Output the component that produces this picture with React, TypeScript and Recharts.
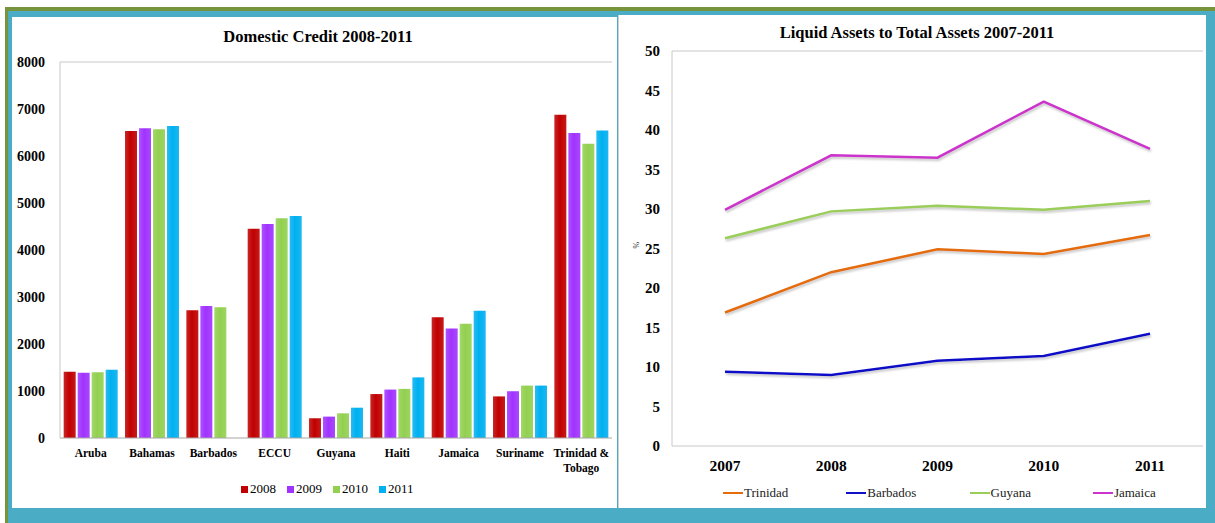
import React from 'react';
import { BarChart, Bar, XAxis, YAxis, LineChart, Line, Legend, ReferenceLine, Text } from 'recharts';

// ---------- Domestic Credit 2008-2011 ----------
const countries = ['Aruba', 'Bahamas', 'Barbados', 'ECCU', 'Guyana', 'Haiti', 'Jamaica', 'Suriname', 'Trinidad & Tobago'];
const credit2008 = [1410, 6530, 2720, 4450, 420, 935, 2570, 885, 6880];
const credit2009 = [1390, 6590, 2810, 4555, 455, 1030, 2330, 995, 6490];
const credit2010 = [1400, 6570, 2780, 4675, 525, 1045, 2430, 1115, 6260];
const credit2011 = [1450, 6640, null, 4725, 645, 1290, 2710, 1115, 6545];
const creditYears = ['2008', '2009', '2010', '2011'];
const creditTicks = [0, 1000, 2000, 3000, 4000, 5000, 6000, 7000, 8000];

// ---------- Liquid Assets to Total Assets 2007-2011 ----------
const years = ['2007', '2008', '2009', '2010', '2011'];
const trinidad = [16.9, 22.0, 24.9, 24.3, 26.7];
const barbados = [9.4, 9.0, 10.8, 11.4, 14.2];
const guyana = [26.3, 29.7, 30.4, 29.9, 31.0];
const jamaica = [29.9, 36.8, 36.5, 43.6, 37.6];
const liquidSeries = ['Trinidad', 'Barbados', 'Guyana', 'Jamaica'];
const liquidTicks = [0, 5, 10, 15, 20, 25, 30, 35, 40, 45, 50];

const barColors = ['#c00000', '#a033ff', '#92d050', '#00b0f0'];
const lineColors = ['#e46c0a', '#1010c8', '#9acd5a', '#cc33cc'];

const creditData = countries.map((c, i) => ({
  country: c,
  y2008: credit2008[i],
  y2009: credit2009[i],
  y2010: credit2010[i],
  y2011: credit2011[i],
}));
const creditKeys = ['y2008', 'y2009', 'y2010', 'y2011'];

const liquidData = years.map((y, i) => ({
  year: y,
  Trinidad: trinidad[i],
  Barbados: barbados[i],
  Guyana: guyana[i],
  Jamaica: jamaica[i],
}));

const SERIF = '"Liberation Serif", "Times New Roman", serif';

const CountryTick = (props: any) => {
  const { x, y, payload } = props;
  return (
    <Text
      x={x}
      y={y}
      width={82}
      textAnchor="middle"
      verticalAnchor="start"
      lineHeight="1.3em"
      fill="#000"
      style={{ fontFamily: SERIF, fontWeight: 700, fontSize: 11.5 }}
    >
      {payload.value}
    </Text>
  );
};

const CreditLegend = () => (
  <div style={{ display: 'flex', fontFamily: SERIF, fontSize: 13, lineHeight: '16px', color: '#000' }}>
    {creditYears.map((y, i) => (
      <div key={y} style={{ width: 46, display: 'flex', alignItems: 'center' }}>
        <span style={{ display: 'inline-block', width: 7, height: 7, background: barColors[i], marginRight: 2 }} />
        <span>{y}</span>
      </div>
    ))}
  </div>
);

const LiquidLegend = () => (
  <div style={{ display: 'flex', fontFamily: SERIF, fontSize: 13, lineHeight: '16px', color: '#222' }}>
    {liquidSeries.map((s, i) => (
      <div key={s} style={{ width: 123.3, display: 'flex', alignItems: 'center' }}>
        <span style={{ display: 'inline-block', width: 20, height: 2, background: lineColors[i], marginRight: 1 }} />
        <span>{s}</span>
      </div>
    ))}
  </div>
);

export default function App() {
  return (
    <div style={{ position: 'absolute', left: 0, top: 0, width: 1215, height: 523, background: '#ffffff', overflow: 'hidden' }}>
      {/* frame */}
      <div style={{ position: 'absolute', left: 5, top: 7, width: 1210, height: 516, background: '#4bacc6' }} />
      <div style={{ position: 'absolute', left: 5, top: 7, width: 1210, height: 4, background: '#77933c' }} />
      <div style={{ position: 'absolute', left: 5, top: 7, width: 3, height: 516, background: '#77933c' }} />
      <div style={{ position: 'absolute', left: 12, top: 17, width: 605, height: 491, background: '#ffffff' }} />
      <div style={{ position: 'absolute', left: 618, top: 15, width: 588, height: 493, background: '#ffffff', borderLeft: '1px solid #d0d0d0', boxSizing: 'border-box' }} />

      {/* titles */}
      <div style={{ position: 'absolute', left: 0, width: 636, top: 27, textAlign: 'center', fontFamily: SERIF, fontWeight: 700, fontSize: 16.5, lineHeight: '20px', color: '#000' }}>
        Domestic Credit 2008-2011
      </div>
      <div style={{ position: 'absolute', left: 617, width: 600, top: 23, textAlign: 'center', fontFamily: SERIF, fontWeight: 700, fontSize: 16.5, lineHeight: '20px', color: '#000' }}>
        Liquid Assets to Total Assets 2007-2011
      </div>

      {/* left chart */}
      <div style={{ position: 'absolute', left: 0, top: 0 }}>
        <BarChart
          width={620}
          height={508}
          data={creditData}
          margin={{ top: 62, right: 8, left: 10, bottom: 40 }}
          barCategoryGap="6%"
          barGap={2}
        >
          <defs>
            {barColors.map((c, i) => (
              <linearGradient key={i} id={`barGrad${i}`} x1="0" y1="0" x2="1" y2="0">
                <stop offset="0%" stopColor={c} stopOpacity={0.85} />
                <stop offset="45%" stopColor={c} stopOpacity={1} />
                <stop offset="100%" stopColor={c} stopOpacity={0.9} />
              </linearGradient>
            ))}
          </defs>
          <XAxis
            dataKey="country"
            axisLine={{ stroke: '#a6a6a6' }}
            tickLine={false}
            tickSize={6}
            tickMargin={5}
            interval={0}
            height={30}
            tick={<CountryTick />}
          />
          <YAxis
            domain={[0, 8000]}
            ticks={creditTicks}
            interval={0}
            width={50}
            axisLine={{ stroke: '#c8c8c8' }}
            tickLine={false}
            tickSize={6}
            tickMargin={9}
            tick={{ fill: '#000', fontFamily: SERIF, fontWeight: 700, fontSize: 14 }}
          />
          <YAxis
            yAxisId="frame"
            orientation="right"
            domain={[0, 8000]}
            width={0}
            tick={false}
            tickLine={false}
            axisLine={{ stroke: '#c8c8c8' }}
          />
          <ReferenceLine y={8000} stroke="#c8c8c8" />
          {creditKeys.map((k, i) => (
            <Bar key={k} dataKey={k} name={creditYears[i]} fill={`url(#barGrad${i})`} isAnimationActive={false} />
          ))}
          <Legend
            layout="horizontal"
            verticalAlign="middle"
            align="center"
            wrapperStyle={{ top: 481, left: 241, width: 200 }}
            content={<CreditLegend />}
          />
        </BarChart>
      </div>

      {/* right chart */}
      <div style={{ position: 'absolute', left: 618, top: 0 }}>
        <LineChart
          width={597}
          height={508}
          data={liquidData}
          margin={{ top: 51, right: 12, left: 10, bottom: 32 }}
        >
          <defs>
            <filter id="lineShadow" x="-5%" y="-20%" width="110%" height="140%">
              <feDropShadow dx="1" dy="2" stdDeviation="1" floodColor="#808080" floodOpacity="0.45" />
            </filter>
          </defs>
          <XAxis
            dataKey="year"
            padding={{ left: 53, right: 53 }}
            axisLine={{ stroke: '#c8c8c8' }}
            tickLine={false}
            tickSize={6}
            tickMargin={8}
            height={30}
            interval={0}
            tick={{ fill: '#000', fontFamily: SERIF, fontWeight: 700, fontSize: 15.5 }}
          />
          <YAxis
            domain={[0, 50]}
            ticks={liquidTicks}
            interval={0}
            width={44}
            axisLine={{ stroke: '#c8c8c8' }}
            tickLine={false}
            tickSize={6}
            tickMargin={6}
            tick={{ fill: '#000', fontFamily: SERIF, fontWeight: 700, fontSize: 15 }}
            label={{ value: '%', angle: -90, position: 'insideLeft', offset: 8, style: { fontSize: 8, fontFamily: SERIF, fill: '#333' } }}
          />
          <YAxis
            yAxisId="frame"
            orientation="right"
            domain={[0, 50]}
            width={0}
            tick={false}
            tickLine={false}
            axisLine={{ stroke: '#c8c8c8' }}
          />
          <ReferenceLine y={50} stroke="#c8c8c8" />
          {liquidSeries.map((s, i) => (
            <Line
              key={s}
              type="linear"
              dataKey={s}
              stroke={lineColors[i]}
              strokeWidth={2.5}
              dot={false}
              activeDot={false}
              filter="url(#lineShadow)"
              isAnimationActive={false}
            />
          ))}
          <Legend
            layout="horizontal"
            verticalAlign="middle"
            align="center"
            wrapperStyle={{ top: 485, left: 105, width: 520 }}
            content={<LiquidLegend />}
          />
        </LineChart>
      </div>
    </div>
  );
}
